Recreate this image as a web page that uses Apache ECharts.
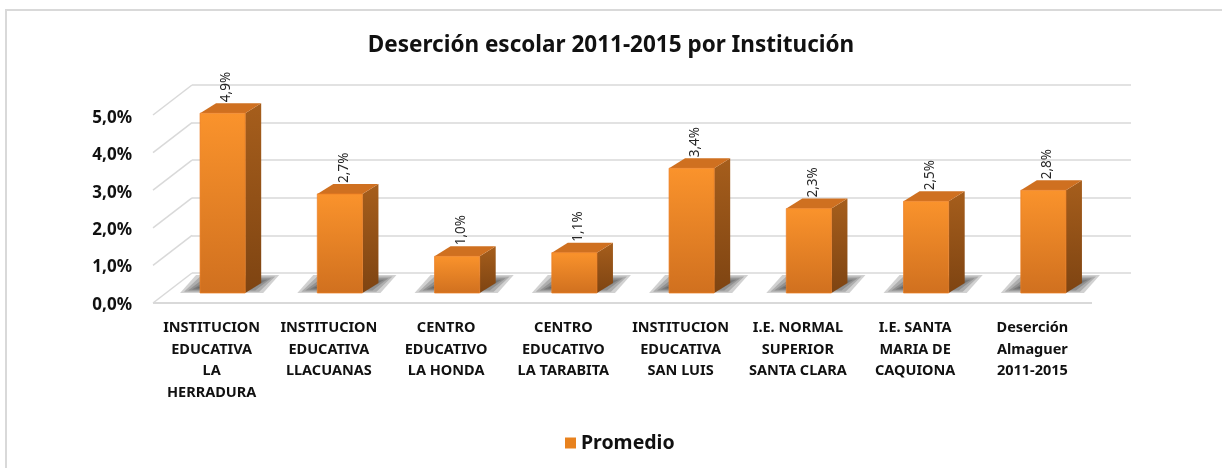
<!DOCTYPE html>
<html>
<head>
<meta charset="utf-8">
<script src="https://cdn.jsdelivr.net/npm/echarts@6/dist/echarts.min.js"></script>
<style>
  html, body { margin: 0; padding: 0; background: #fff; }
  #main { width: 1222px; height: 468px; }
</style>
</head>
<body>
<div id="main"></div>
<script>
var chartDom = document.getElementById('main');
var myChart = echarts.init(chartDom);
var option;

const categories = [
  'INSTITUCION\nEDUCATIVA\nLA\nHERRADURA',
  'INSTITUCION\nEDUCATIVA\nLLACUANAS',
  'CENTRO\nEDUCATIVO\nLA HONDA',
  'CENTRO\nEDUCATIVO\nLA TARABITA',
  'INSTITUCION\nEDUCATIVA\nSAN LUIS',
  'I.E. NORMAL\nSUPERIOR\nSANTA CLARA',
  'I.E. SANTA\nMARIA DE\nCAQUIONA',
  'Deserción\nAlmaguer\n2011-2015'
];
const promedio = [0.049, 0.027, 0.010, 0.011, 0.034, 0.023, 0.025, 0.028];
const yTicks = [0, 0.01, 0.02, 0.03, 0.04, 0.05];

const FONT = '"Noto Sans", sans-serif';
// depth of the bars and of the floor (3d look)
const DX = 16, DY = -10;
const FX = -39, FY = 30;

function pct(v) {
  return (v * 100).toFixed(1).replace('.', ',') + '%';
}

const frontColor = new echarts.graphic.LinearGradient(0, 0, 0, 1, [
  { offset: 0, color: '#FA932C' },
  { offset: 1, color: '#D0701F' }
]);
const sideColor = new echarts.graphic.LinearGradient(0, 0, 0, 1, [
  { offset: 0, color: '#A65E1C' },
  { offset: 1, color: '#7E4412' }
]);
const topColor = '#CF7020';

function renderBar(params, api) {
  const idx = api.value(0);
  const base = api.coord([idx, 0]);
  const top = api.coord([idx, api.value(1)]);
  const bw = api.size([1, 0])[0] * 0.385;
  const x0 = base[0] - bw / 2, x1 = base[0] + bw / 2;
  const yb = base[1], yt = top[1];

  // soft floor shadow: a few stacked translucent layers
  const children = [];
  for (let i = 0; i < 5; i++) {
    const l = x0 - 20 + i * 4, r = x1 + DX + 18 - i * 4;
    const b = yb - i * 1.2, t = yb + DY - 8 + i * 1.6;
    children.push({
      type: 'polygon',
      shape: { points: [[l, b], [r - DX, b], [r, t], [l + DX, t]] },
      style: { fill: 'rgba(45,45,45,0.22)' },
      z2: 0
    });
  }
  children.push(
    {
      type: 'polygon',
      shape: { points: [[x1, yb], [x1 + DX, yb + DY], [x1 + DX, yt + DY], [x1, yt]] },
      style: { fill: sideColor },
      z2: 1
    },
    {
      type: 'polygon',
      shape: { points: [[x0, yt], [x1, yt], [x1 + DX, yt + DY], [x0 + DX, yt + DY]] },
      style: { fill: topColor },
      z2: 1
    },
    {
      type: 'rect',
      shape: { x: x0, y: yt, width: bw, height: yb - yt },
      style: { fill: frontColor, stroke: 'rgba(235,125,35,0.9)', lineWidth: 0.8 },
      z2: 2
    },
    {
      type: 'text',
      x: base[0] + 4,
      y: yt + DY - 1,
      rotation: Math.PI / 2,
      style: {
        text: pct(api.value(1)),
        x: 0, y: 0,
        align: 'left',
        verticalAlign: 'middle',
        fill: '#262626',
        font: '13.5px ' + FONT
      },
      z2: 3
    }
  );
  return { type: 'group', children: children };
}

function renderFloor(params, api) {
  const cs = params.coordSys;
  const y = api.coord([0, api.value(0)])[1];
  const children = [
    {
      type: 'line',
      shape: { x1: cs.x, y1: y, x2: cs.x + FX, y2: y + FY },
      style: { stroke: '#d9d9d9', lineWidth: 1.5 }
    }
  ];
  if (api.value(0) === 0) {
    children.push({
      type: 'line',
      shape: { x1: cs.x + FX, y1: y + FY, x2: cs.x + cs.width + FX, y2: y + FY },
      style: { stroke: '#d9d9d9', lineWidth: 2 }
    });
  }
  return { type: 'group', children: children };
}

option = {
  animation: false,
  backgroundColor: '#fff',
  title: {
    text: 'Deserción escolar 2011-2015 por Institución',
    left: 'center',
    top: 29,
    textStyle: { fontFamily: FONT, fontWeight: 'bold', fontSize: 22.5, color: '#111' }
  },
  legend: {
    data: [{ name: 'Promedio', icon: 'rect' }],
    left: 560,
    top: 428,
    itemWidth: 11,
    itemHeight: 11,
    itemGap: 9,
    textStyle: { fontFamily: FONT, fontWeight: 'bold', fontSize: 19.5, color: '#111' }
  },
  graphic: [
    {
      type: 'rect',
      shape: { x: 6, y: 10, width: 1300, height: 500 },
      style: { fill: 'none', stroke: '#d9d9d9', lineWidth: 2 },
      silent: true
    }
  ],
  grid: [
    // back wall
    { left: 192, right: 91, top: 85, bottom: 195 },
    // front plane: axis labels
    { left: 153, right: 131, top: 118, bottom: 163 },
    // bars
    { left: 164, right: 120, top: 109.5, bottom: 175 }
  ],
  xAxis: [
    { gridIndex: 0, type: 'category', data: categories, show: false },
    {
      gridIndex: 1,
      type: 'category',
      data: categories,
      axisLine: { show: false },
      axisTick: { show: false },
      axisLabel: {
        interval: 0,
        margin: 12,
        lineHeight: 21.7,
        fontFamily: FONT,
        fontWeight: 'bold',
        fontSize: 14.5,
        color: '#111'
      }
    },
    { gridIndex: 2, type: 'category', data: categories, show: false }
  ],
  yAxis: [
    {
      gridIndex: 0,
      type: 'value',
      min: 0,
      max: 0.05,
      interval: 0.01,
      axisLine: { show: false },
      axisTick: { show: false },
      axisLabel: { show: false },
      splitLine: { lineStyle: { color: '#d9d9d9', width: 1.5 } }
    },
    {
      gridIndex: 1,
      type: 'value',
      min: 0,
      max: 0.05,
      interval: 0.01,
      axisLine: { show: false },
      axisTick: { show: false },
      splitLine: { show: false },
      axisLabel: {
        margin: 21,
        formatter: pct,
        fontFamily: FONT,
        fontWeight: 'bold',
        fontSize: 17,
        color: '#111'
      }
    },
    { gridIndex: 2, type: 'value', min: 0, max: 0.05, show: false }
  ],
  series: [
    {
      type: 'custom',
      name: 'floor',
      xAxisIndex: 0,
      yAxisIndex: 0,
      silent: true,
      renderItem: renderFloor,
      data: yTicks.map(function (v) { return [v]; }),
      z: 1
    },
    {
      type: 'custom',
      name: 'Promedio',
      xAxisIndex: 2,
      yAxisIndex: 2,
      itemStyle: { color: '#E8821E' },
      renderItem: renderBar,
      data: promedio.map(function (v, i) { return [i, v]; }),
      z: 2
    }
  ]
};

option && myChart.setOption(option);
</script>
</body>
</html>
